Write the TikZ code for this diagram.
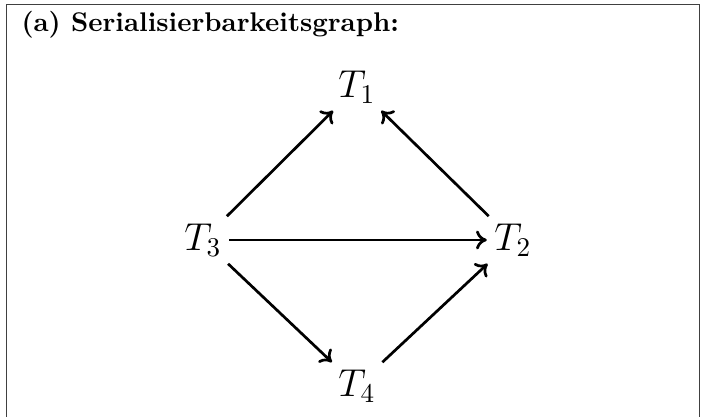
\documentclass[tikz,border=0pt]{standalone}
\usetikzlibrary{arrows.meta}
\begin{document}
\begin{tikzpicture}[x=0.37pt,y=-0.37pt,
  vertex/.style={font=\Large, inner sep=2.6pt},
  edge/.style={-{To[length=4pt,width=7pt]}, line width=1pt},
  frame/.style={black!75, line width=0.6pt}]
\useasboundingbox (0,0) rectangle (701,417);
\draw[frame] (6.5,417) -- (6.5,4.5) -- (699.5,4.5) -- (699.5,417);
\node[anchor=base west, inner sep=0pt, font=\bfseries] (title) at (21,32) {(a) Serialisierbarkeitsgraph:};
\node[vertex] (T1) at (357,87) {$T_1$};
\node[vertex] (T3) at (203,240) {$T_3$};
\node[vertex] (T2) at (513,240) {$T_2$};
\node[vertex] (T4) at (357,386) {$T_4$};
\draw[edge] (T3) -- (T1);
\draw[edge] (T2) -- (T1);
\draw[edge] (T3) -- (T2);
\draw[edge] (T3) -- (T4);
\draw[edge] (T4) -- (T2);
\end{tikzpicture}
\end{document}
